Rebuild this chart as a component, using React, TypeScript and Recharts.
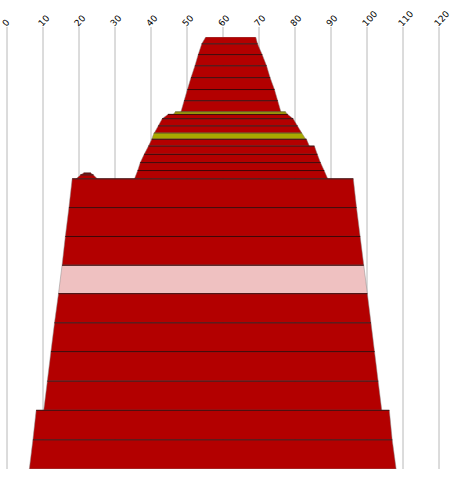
import { ComposedChart, Area, Line, XAxis, YAxis, CartesianGrid } from "recharts"

// x axis ticks (top)
const xTicks = [0, 10, 20, 30, 40, 50, 60, 70, 80, 90, 100, 110, 120]

// layers, top to bottom. depth in the same units as the x axis (0..120)
const layerTop = [
  0, 1.9, 4.9, 8.0, 11.3, 14.6, 17.7, 20.8, 21.5, 22.7, 24.7, 26.7, 28.4, 30.3, 32.6, 34.9, 37.1,
  37.8, 38.3, 39.4, 47.4, 55.4, 63.4, 71.3, 79.4, 87.4, 95.6, 103.7, 111.9,
]
const layerBottom = [
  1.9, 4.9, 8.0, 11.3, 14.6, 17.7, 20.8, 21.5, 22.7, 24.7, 26.7, 28.4, 30.3, 32.6, 34.9, 37.1, 39.4,
  38.3, 39.4, 47.4, 55.4, 63.4, 71.3, 79.4, 87.4, 95.6, 103.7, 111.9, 120,
]
const leftTop = [
  55.2, 54.1, 53.1, 52.2, 51.1, 50.1, 49.2, 46.7, 44.7, 43.1, 42.0, 40.8, 40.2, 39.3, 38.1, 37.0, 36.3,
  21.3, 20.4, 18.1, 17.2, 16.2, 15.3, 14.3, 13.2, 12.2, 11.2, 8.1, 7.2,
]
const leftBottom = [
  54.1, 53.1, 52.2, 51.1, 50.1, 49.2, 48.3, 46.2, 43.1, 42.0, 40.9, 40.2, 39.3, 38.1, 37.0, 36.3, 35.4,
  20.4, 19.2, 17.2, 16.2, 15.3, 14.3, 13.2, 12.2, 11.2, 10.2, 7.2, 6.2,
]
const rightTop = [
  69.1, 69.6, 70.9, 72.1, 73.1, 74.3, 75.2, 77.4, 78.0, 79.5, 80.7, 81.9, 83.2, 85.4, 86.2, 87.1, 88.1,
  23.3, 24.0, 96.2, 97.1, 98.1, 99.1, 100.1, 101.1, 102.1, 103.1, 106.2, 107.0,
]
const rightBottom = [
  69.6, 70.9, 72.1, 73.1, 74.3, 75.2, 76.1, 77.9, 79.5, 80.7, 81.9, 83.0, 84.0, 86.2, 87.1, 88.1, 89.1,
  24.0, 25.1, 97.1, 98.1, 99.1, 100.1, 101.1, 102.1, 103.1, 104.1, 107.0, 108.1,
]
const layerKind = [
  "rock", "rock", "rock", "rock", "rock", "rock", "rock", "sand", "rock", "rock", "rock", "sand", "rock",
  "rock", "rock", "rock", "rock", "rock", "rock", "rock", "rock", "rock", "clay", "rock", "rock", "rock",
  "rock", "rock", "rock",
]

const kindColor: Record<string, string> = {
  rock: "#b30000",
  sand: "#a9a900",
  clay: "#efc1c1",
}

// one trapezoid per layer: bottom-left, top-left, top-right, bottom-right
const layers = layerTop.map((top, i) => ({
  kind: layerKind[i],
  points: [
    { x: leftBottom[i], d: [layerBottom[i], layerBottom[i]] },
    { x: leftTop[i], d: [top, layerBottom[i]] },
    { x: rightTop[i], d: [top, layerBottom[i]] },
    { x: rightBottom[i], d: [layerBottom[i], layerBottom[i]] },
  ],
}))

// lines on top of each layer (the first one has none)
const topLines = (sand: boolean) =>
  layerTop.flatMap((top, i) =>
    i === 0 || (layerKind[i] === "sand") !== sand
      ? []
      : [
          { x: leftTop[i], d: top },
          { x: rightTop[i], d: top },
          { x: rightTop[i], d: null },
        ]
  )
const rockLines = topLines(false)
const sandLines = topLines(true)

const AxisTick = ({ x, y, payload }: any) => (
  <text
    x={x - 3}
    y={y}
    dy="0.35em"
    transform={`rotate(-48 ${x - 3} ${y})`}
    textAnchor="start"
    fontSize={9}
    fontFamily="DejaVu Sans"
    fill="#000"
  >
    {payload.value}
  </text>
)

export default function App() {
  return (
    <div style={{ position: "absolute", left: 0, top: 0 }}>
      <ComposedChart width={452} height={477} margin={{ top: 0, right: 13, bottom: 8, left: 7 }}>
        <CartesianGrid vertical horizontal={false} stroke="#b8b8b8" />
        <XAxis
          type="number"
          dataKey="x"
          orientation="top"
          domain={[0, 120]}
          ticks={xTicks}
          height={37}
          tickSize={10}
          tickMargin={2}
          axisLine={false}
          tickLine={{ stroke: "#b8b8b8" }}
          tick={<AxisTick />}
          allowDataOverflow
        />
        <YAxis type="number" dataKey="d" domain={[0, 120]} reversed hide allowDataOverflow />
        {layers.map((layer, i) => (
          <Area
            key={i}
            data={layer.points}
            dataKey="d"
            type="linear"
            fill={kindColor[layer.kind]}
            fillOpacity={1}
            stroke="#8a8a8a"
            strokeWidth={0.5}
            isAnimationActive={false}
            dot={false}
            activeDot={false}
          />
        ))}
        <Line
          data={rockLines}
          dataKey="d"
          type="linear"
          stroke="#3a0000"
          strokeWidth={1}
          dot={false}
          activeDot={false}
          isAnimationActive={false}
        />
        <Line
          data={sandLines}
          dataKey="d"
          type="linear"
          stroke="#5c5c00"
          strokeWidth={0.8}
          dot={false}
          activeDot={false}
          isAnimationActive={false}
        />
      </ComposedChart>
    </div>
  )
}
